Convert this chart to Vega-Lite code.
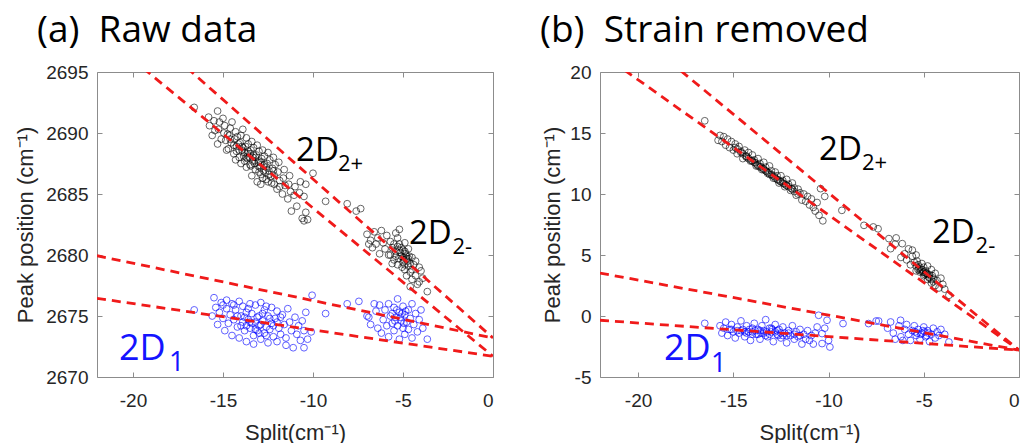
{
"$schema": "https://vega.github.io/schema/vega-lite/v6.json",
"background": "white",
"padding": {"left": 14, "top": 12, "right": 5, "bottom": 0},
"spacing": 46,
"config": {
 "view": {"stroke": null},
 "axis": {"labelFont": "Liberation Sans", "labelFontSize": 19, "labelColor": "#262626", "titleFont": "Liberation Sans", "titleFontSize": 22, "titleFontWeight": "normal", "titleColor": "#262626", "domainColor": "#8c8c8c", "tickColor": "#8c8c8c", "tickSize": -5, "grid": false, "labelExpr": "'' + datum.value"},
 "title": {"font": "Open Sans", "fontSize": 37, "fontWeight": "normal", "color": "#000000", "anchor": "start", "frame": "group", "dx": -60, "baseline": "alphabetic", "offset": 13}
},
"datasets": {
 "a_k": [
{"x":-16.6,"y":2692.1},{"x":-15.3,"y":2691.8},{"x":-15.8,"y":2691.3},{"x":-15.75,"y":2690.6},{"x":-15.5,"y":2691.0},{"x":-15.45,"y":2690.2},{"x":-15.6,"y":2689.8},{"x":-15.2,"y":2690.9},{"x":-15.25,"y":2690.3},{"x":-15.1,"y":2689.5},{"x":-15.3,"y":2689.1},{"x":-14.9,"y":2690.6},{"x":-14.95,"y":2690.0},{"x":-14.85,"y":2689.4},{"x":-14.8,"y":2688.6},{"x":-15.0,"y":2691.2},{"x":-14.6,"y":2690.4},{"x":-14.65,"y":2689.8},{"x":-14.55,"y":2689.2},{"x":-14.7,"y":2688.7},{"x":-14.5,"y":2690.9},{"x":-14.3,"y":2690.1},{"x":-14.35,"y":2689.5},{"x":-14.25,"y":2688.9},{"x":-14.4,"y":2688.3},{"x":-14.2,"y":2689.7},{"x":-14.3,"y":2687.8},{"x":-14.0,"y":2689.8},{"x":-14.05,"y":2689.2},{"x":-13.95,"y":2688.6},{"x":-14.1,"y":2688.0},{"x":-13.9,"y":2690.3},{"x":-14.0,"y":2687.5},{"x":-13.7,"y":2689.6},{"x":-13.75,"y":2688.9},{"x":-13.65,"y":2688.3},{"x":-13.8,"y":2687.7},{"x":-13.6,"y":2689.1},{"x":-13.7,"y":2687.2},{"x":-13.4,"y":2689.3},{"x":-13.45,"y":2688.6},{"x":-13.35,"y":2688.0},{"x":-13.5,"y":2687.4},{"x":-13.3,"y":2688.8},{"x":-13.4,"y":2686.5},{"x":-13.1,"y":2689.0},{"x":-13.15,"y":2688.2},{"x":-13.05,"y":2687.6},{"x":-13.2,"y":2687.0},{"x":-13.0,"y":2688.5},{"x":-13.1,"y":2686.0},{"x":-12.8,"y":2688.6},{"x":-12.85,"y":2687.9},{"x":-12.75,"y":2687.3},{"x":-12.9,"y":2686.6},{"x":-12.7,"y":2688.1},{"x":-12.9,"y":2685.8},{"x":-12.5,"y":2688.4},{"x":-12.55,"y":2687.5},{"x":-12.45,"y":2686.9},{"x":-12.6,"y":2686.2},{"x":-12.4,"y":2687.8},{"x":-12.2,"y":2688.0},{"x":-12.25,"y":2687.1},{"x":-12.15,"y":2686.5},{"x":-12.3,"y":2685.9},{"x":-12.1,"y":2687.4},{"x":-11.9,"y":2687.6},{"x":-11.95,"y":2686.8},{"x":-11.85,"y":2686.1},{"x":-12.0,"y":2685.4},{"x":-11.6,"y":2687.0},{"x":-11.65,"y":2686.3},{"x":-11.55,"y":2685.7},{"x":-11.7,"y":2685.0},{"x":-11.3,"y":2686.5},{"x":-11.35,"y":2685.8},{"x":-11.25,"y":2685.2},{"x":-11.4,"y":2684.6},{"x":-11.0,"y":2685.6},{"x":-11.05,"y":2684.9},{"x":-10.9,"y":2684.0},{"x":-11.2,"y":2683.6},{"x":-10.7,"y":2686.0},{"x":-10.75,"y":2685.1},{"x":-10.6,"y":2683.0},{"x":-10.4,"y":2685.8},{"x":-10.5,"y":2684.8},{"x":-10.4,"y":2683.5},{"x":-10.3,"y":2682.9},{"x":-10.5,"y":2682.8},{"x":-10.0,"y":2686.7},{"x":-9.3,"y":2684.4},{"x":-8.1,"y":2684.2},{"x":-7.6,"y":2683.6},{"x":-7.35,"y":2683.8},{"x":-13.9,"y":2688.8},{"x":-13.6,"y":2688.5},{"x":-13.3,"y":2688.2},{"x":-13.0,"y":2687.7},{"x":-12.7,"y":2687.4},{"x":-13.55,"y":2688.0},{"x":-13.25,"y":2687.5},{"x":-12.95,"y":2687.2},{"x":-14.15,"y":2689.1},{"x":-13.85,"y":2688.1},{"x":-12.65,"y":2686.8},{"x":-12.35,"y":2686.4},
{"x":-14.1,"y":2688.6},{"x":-13.95,"y":2688.9},{"x":-13.8,"y":2688.4},{"x":-13.65,"y":2687.9},{"x":-13.5,"y":2688.3},{"x":-13.35,"y":2687.7},{"x":-13.2,"y":2688.0},{"x":-13.05,"y":2687.3},{"x":-12.9,"y":2687.6},{"x":-12.75,"y":2686.9},{"x":-12.6,"y":2687.2},{"x":-12.45,"y":2686.6},{"x":-14.4,"y":2689.0},{"x":-14.25,"y":2688.5},{"x":-13.45,"y":2687.3},{"x":-13.0,"y":2686.8},{"x":-12.8,"y":2686.3},{"x":-12.5,"y":2686.0},{"x":-12.15,"y":2685.8},{"x":-11.85,"y":2685.6},{"x":-13.7,"y":2688.0},{"x":-14.6,"y":2689.5},{"x":-14.75,"y":2689.9},{"x":-12.2,"y":2686.9},
{"x":-7.0,"y":2681.7},{"x":-6.8,"y":2681.2},{"x":-6.7,"y":2680.6},{"x":-6.6,"y":2681.9},{"x":-6.4,"y":2681.4},{"x":-6.3,"y":2680.1},{"x":-6.2,"y":2682.0},{"x":-6.1,"y":2681.0},{"x":-6.0,"y":2680.5},{"x":-5.9,"y":2681.6},{"x":-5.8,"y":2680.0},{"x":-5.7,"y":2681.1},{"x":-5.6,"y":2680.6},{"x":-5.5,"y":2679.6},{"x":-5.4,"y":2681.8},{"x":-5.4,"y":2680.3},{"x":-5.3,"y":2679.2},{"x":-5.2,"y":2682.1},{"x":-5.2,"y":2680.9},{"x":-5.1,"y":2679.9},{"x":-5.0,"y":2680.4},{"x":-5.0,"y":2679.4},{"x":-4.9,"y":2678.8},{"x":-4.9,"y":2681.0},{"x":-4.8,"y":2679.9},{"x":-4.8,"y":2678.3},{"x":-4.7,"y":2680.5},{"x":-4.7,"y":2679.1},{"x":-4.6,"y":2677.4},{"x":-4.6,"y":2678.6},{"x":-4.5,"y":2679.8},{"x":-4.5,"y":2678.0},{"x":-4.4,"y":2679.2},{"x":-4.3,"y":2679.5},{"x":-4.3,"y":2678.3},{"x":-4.2,"y":2677.6},{"x":-4.1,"y":2679.0},{"x":-4.1,"y":2677.8},{"x":-4.0,"y":2678.7},{"x":-3.9,"y":2678.1},{"x":-3.65,"y":2677.0},{"x":-5.6,"y":2679.3},{"x":-5.3,"y":2681.4},{"x":-6.5,"y":2680.9},{"x":-5.7,"y":2680.0},{"x":-5.15,"y":2680.2},{"x":-4.95,"y":2679.6},{"x":-4.85,"y":2680.1},{"x":-5.05,"y":2679.0},{"x":-4.75,"y":2679.5},{"x":-5.25,"y":2679.7},{"x":-4.65,"y":2679.9},{"x":-6.9,"y":2680.9},
{"x":-5.1,"y":2680.6},{"x":-4.9,"y":2680.3},{"x":-4.8,"y":2679.7},{"x":-5.0,"y":2679.8},{"x":-5.2,"y":2680.4},{"x":-4.7,"y":2679.7},{"x":-4.9,"y":2679.2},{"x":-5.3,"y":2680.7},{"x":-5.5,"y":2680.9},{"x":-4.6,"y":2679.3},{"x":-4.5,"y":2678.8},{"x":-5.4,"y":2679.9}
 ],
 "a_b": [
{"x":-16.6,"y":2675.5},{"x":-15.5,"y":2676.5},{"x":-15.4,"y":2675.7},{"x":-15.6,"y":2675.0},{"x":-15.3,"y":2674.3},{"x":-15.2,"y":2675.3},{"x":-15.1,"y":2676.1},{"x":-15.0,"y":2674.8},{"x":-14.9,"y":2673.8},{"x":-14.8,"y":2675.6},{"x":-14.8,"y":2676.3},{"x":-14.7,"y":2674.4},{"x":-14.6,"y":2675.1},{"x":-14.5,"y":2676.0},{"x":-14.5,"y":2673.4},{"x":-14.4,"y":2674.7},{"x":-14.3,"y":2675.5},{"x":-14.2,"y":2674.1},{"x":-14.1,"y":2676.2},{"x":-14.1,"y":2673.2},{"x":-14.0,"y":2675.0},{"x":-13.9,"y":2674.5},{"x":-13.9,"y":2675.8},{"x":-13.8,"y":2673.8},{"x":-13.7,"y":2675.3},{"x":-13.7,"y":2672.9},{"x":-13.6,"y":2674.7},{"x":-13.5,"y":2676.0},{"x":-13.5,"y":2674.0},{"x":-13.4,"y":2675.2},{"x":-13.3,"y":2673.4},{"x":-13.3,"y":2672.7},{"x":-13.2,"y":2674.5},{"x":-13.2,"y":2675.9},{"x":-13.1,"y":2673.8},{"x":-13.0,"y":2675.0},{"x":-13.0,"y":2674.2},{"x":-12.9,"y":2676.1},{"x":-12.9,"y":2673.1},{"x":-12.8,"y":2674.6},{"x":-12.7,"y":2675.5},{"x":-12.7,"y":2673.6},{"x":-12.6,"y":2674.1},{"x":-12.5,"y":2675.0},{"x":-12.5,"y":2672.8},{"x":-12.4,"y":2673.9},{"x":-12.3,"y":2675.7},{"x":-12.3,"y":2674.4},{"x":-12.2,"y":2673.3},{"x":-12.1,"y":2674.8},{"x":-12.0,"y":2672.9},{"x":-12.0,"y":2675.4},{"x":-11.9,"y":2674.0},{"x":-11.8,"y":2673.5},{"x":-11.7,"y":2675.1},{"x":-11.6,"y":2674.3},{"x":-11.5,"y":2672.6},{"x":-11.5,"y":2673.2},{"x":-11.4,"y":2675.6},{"x":-11.3,"y":2674.5},{"x":-11.2,"y":2673.8},{"x":-11.1,"y":2672.4},{"x":-11.0,"y":2674.9},{"x":-10.9,"y":2673.5},{"x":-10.8,"y":2674.2},{"x":-10.7,"y":2673.0},{"x":-10.6,"y":2674.6},{"x":-10.5,"y":2672.4},{"x":-10.5,"y":2673.8},{"x":-10.4,"y":2675.3},{"x":-10.3,"y":2673.1},{"x":-10.1,"y":2673.7},{"x":-10.05,"y":2676.7},{"x":-9.3,"y":2675.2},{"x":-8.1,"y":2676.0},{"x":-7.45,"y":2676.2},{"x":-14.2,"y":2675.0},{"x":-13.8,"y":2674.9},{"x":-13.6,"y":2675.6},{"x":-13.4,"y":2674.4},{"x":-13.1,"y":2674.9},{"x":-12.9,"y":2674.3},{"x":-12.8,"y":2675.2},{"x":-12.6,"y":2673.4},{"x":-12.4,"y":2674.8},{"x":-12.2,"y":2674.2},{"x":-13.0,"y":2673.6},{"x":-13.5,"y":2674.5},{"x":-14.0,"y":2674.2},{"x":-12.0,"y":2674.5},{"x":-11.8,"y":2674.9},{"x":-13.7,"y":2674.2},{"x":-13.2,"y":2673.9},{"x":-12.6,"y":2675.8},{"x":-14.4,"y":2675.9},{"x":-15.0,"y":2675.9},
{"x":-6.9,"y":2674.9},{"x":-6.8,"y":2674.3},{"x":-6.5,"y":2675.4},{"x":-6.4,"y":2674.0},{"x":-6.3,"y":2675.9},{"x":-6.2,"y":2673.6},{"x":-6.1,"y":2674.7},{"x":-6.0,"y":2675.5},{"x":-5.9,"y":2674.2},{"x":-5.8,"y":2676.0},{"x":-5.8,"y":2673.3},{"x":-5.7,"y":2675.0},{"x":-5.6,"y":2674.4},{"x":-5.5,"y":2675.7},{"x":-5.5,"y":2673.8},{"x":-5.4,"y":2674.9},{"x":-5.3,"y":2676.4},{"x":-5.3,"y":2674.2},{"x":-5.2,"y":2675.3},{"x":-5.2,"y":2673.1},{"x":-5.1,"y":2674.6},{"x":-5.0,"y":2675.8},{"x":-5.0,"y":2674.0},{"x":-4.9,"y":2675.1},{"x":-4.9,"y":2673.5},{"x":-4.8,"y":2674.5},{"x":-4.7,"y":2675.5},{"x":-4.7,"y":2673.9},{"x":-4.6,"y":2674.8},{"x":-4.5,"y":2673.2},{"x":-4.5,"y":2676.0},{"x":-4.4,"y":2674.3},{"x":-4.3,"y":2675.2},{"x":-4.2,"y":2673.7},{"x":-4.1,"y":2674.7},{"x":-4.0,"y":2675.5},{"x":-3.9,"y":2674.0},{"x":-3.65,"y":2673.1},{"x":-5.6,"y":2675.2},{"x":-5.35,"y":2675.5},{"x":-5.15,"y":2674.9},{"x":-4.95,"y":2674.4},{"x":-4.85,"y":2675.4},{"x":-5.45,"y":2674.6},{"x":-5.05,"y":2675.2},{"x":-6.6,"y":2676.0},{"x":-7.0,"y":2675.0}
 ],
 "b_k": [
{"x":-16.5,"y":16.0},{"x":-15.8,"y":14.4},{"x":-15.7,"y":14.8},{"x":-15.6,"y":14.3},{"x":-15.5,"y":14.7},{"x":-15.4,"y":14.0},{"x":-15.3,"y":14.5},{"x":-15.2,"y":13.8},{"x":-15.1,"y":14.3},{"x":-15.0,"y":13.6},{"x":-14.9,"y":14.1},{"x":-14.8,"y":13.3},{"x":-14.7,"y":13.9},{"x":-14.6,"y":13.5},{"x":-14.5,"y":12.9},{"x":-14.4,"y":13.6},{"x":-14.3,"y":13.1},{"x":-14.2,"y":13.4},{"x":-14.1,"y":12.7},{"x":-14.0,"y":13.2},{"x":-13.9,"y":12.8},{"x":-13.8,"y":12.3},{"x":-13.7,"y":12.9},{"x":-13.6,"y":12.5},{"x":-13.5,"y":12.0},{"x":-13.4,"y":12.6},{"x":-13.3,"y":12.2},{"x":-13.2,"y":11.7},{"x":-13.1,"y":12.3},{"x":-13.0,"y":11.9},{"x":-12.9,"y":11.3},{"x":-12.8,"y":11.8},{"x":-12.7,"y":11.5},{"x":-12.6,"y":10.9},{"x":-12.5,"y":11.5},{"x":-12.4,"y":11.1},{"x":-12.3,"y":10.6},{"x":-12.2,"y":11.2},{"x":-12.1,"y":10.8},{"x":-12.0,"y":10.3},{"x":-11.9,"y":10.9},{"x":-11.8,"y":10.5},{"x":-11.7,"y":9.9},{"x":-11.6,"y":10.4},{"x":-11.5,"y":10.1},{"x":-11.4,"y":9.5},{"x":-11.3,"y":10.0},{"x":-11.2,"y":9.4},{"x":-11.1,"y":9.8},{"x":-11.0,"y":9.1},{"x":-10.9,"y":9.6},{"x":-10.8,"y":8.9},{"x":-10.42,"y":10.44},{"x":-10.2,"y":9.8},{"x":-10.5,"y":8.25},{"x":-10.3,"y":7.8},{"x":-10.6,"y":9.3},{"x":-10.7,"y":8.6},{"x":-9.3,"y":8.66},{"x":-8.14,"y":7.43},{"x":-7.65,"y":7.3},{"x":-7.4,"y":7.15},{"x":-14.8,"y":13.7},{"x":-14.5,"y":13.3},{"x":-14.2,"y":12.9},{"x":-13.9,"y":12.6},{"x":-13.6,"y":12.2},{"x":-13.3,"y":11.9},{"x":-13.0,"y":11.6},{"x":-12.7,"y":11.2},{"x":-12.4,"y":10.9},{"x":-12.1,"y":10.6},{"x":-11.8,"y":10.2},{"x":-13.45,"y":12.1},{"x":-13.15,"y":11.75},{"x":-12.85,"y":11.45},{"x":-12.55,"y":11.05},{"x":-14.05,"y":12.75},{"x":-14.35,"y":13.1},{"x":-13.75,"y":12.4},{"x":-12.25,"y":10.75},{"x":-11.95,"y":10.45},
{"x":-14.9,"y":13.8},{"x":-14.6,"y":13.4},{"x":-14.3,"y":13.0},{"x":-14.0,"y":12.7},{"x":-13.7,"y":12.3},{"x":-13.4,"y":12.0},{"x":-13.1,"y":11.6},{"x":-12.8,"y":11.3},{"x":-12.5,"y":11.0},{"x":-12.2,"y":10.7},{"x":-11.9,"y":10.4},{"x":-11.6,"y":10.0},{"x":-13.85,"y":12.55},{"x":-13.55,"y":12.25},{"x":-13.25,"y":11.85},{"x":-12.95,"y":11.5},{"x":-12.65,"y":11.15},{"x":-12.35,"y":10.85},
{"x":-6.83,"y":6.34},{"x":-6.45,"y":6.4},{"x":-6.74,"y":5.52},{"x":-6.13,"y":5.93},{"x":-6.0,"y":5.1},{"x":-5.9,"y":4.6},{"x":-5.8,"y":5.5},{"x":-5.7,"y":4.2},{"x":-5.6,"y":4.9},{"x":-5.5,"y":4.4},{"x":-5.4,"y":3.7},{"x":-5.4,"y":5.0},{"x":-5.3,"y":4.2},{"x":-5.2,"y":3.6},{"x":-5.1,"y":4.3},{"x":-5.0,"y":3.3},{"x":-5.0,"y":4.0},{"x":-4.9,"y":3.7},{"x":-4.8,"y":3.0},{"x":-4.8,"y":4.1},{"x":-4.7,"y":3.4},{"x":-4.6,"y":2.7},{"x":-4.6,"y":3.8},{"x":-4.5,"y":3.1},{"x":-4.4,"y":2.5},{"x":-4.4,"y":3.5},{"x":-4.3,"y":2.9},{"x":-4.2,"y":2.3},{"x":-4.1,"y":3.1},{"x":-4.0,"y":2.6},{"x":-3.9,"y":2.2},{"x":-3.68,"y":1.7},{"x":-5.6,"y":5.4},{"x":-6.2,"y":4.8},{"x":-5.25,"y":3.9},{"x":-5.15,"y":3.7},{"x":-5.05,"y":3.6},{"x":-4.95,"y":3.4},{"x":-4.85,"y":3.5},{"x":-4.75,"y":3.2},{"x":-5.35,"y":4.5},{"x":-4.55,"y":3.3},{"x":-6.5,"y":5.9},
{"x":-5.1,"y":3.8},{"x":-5.0,"y":3.6},{"x":-4.9,"y":3.5},{"x":-4.8,"y":3.4},{"x":-4.7,"y":3.1},{"x":-5.2,"y":4.0},{"x":-5.3,"y":3.8},{"x":-4.6,"y":3.0},{"x":-4.5,"y":2.8},{"x":-5.4,"y":4.1}
 ],
 "b_b": [
{"x":-16.5,"y":-0.6},{"x":-15.7,"y":-0.8},{"x":-15.6,"y":-1.4},{"x":-15.5,"y":-1.0},{"x":-15.4,"y":-0.5},{"x":-15.3,"y":-1.6},{"x":-15.2,"y":-1.1},{"x":-15.1,"y":-0.7},{"x":-15.0,"y":-1.3},{"x":-14.9,"y":-1.8},{"x":-14.8,"y":-0.9},{"x":-14.7,"y":-1.4},{"x":-14.6,"y":-0.4},{"x":-14.5,"y":-1.1},{"x":-14.4,"y":-1.7},{"x":-14.3,"y":-0.8},{"x":-14.2,"y":-1.3},{"x":-14.1,"y":-2.0},{"x":-14.0,"y":-1.0},{"x":-13.9,"y":-0.6},{"x":-13.8,"y":-1.5},{"x":-13.7,"y":-1.1},{"x":-13.6,"y":-1.9},{"x":-13.5,"y":-0.8},{"x":-13.4,"y":-1.4},{"x":-13.3,"y":-0.3},{"x":-13.2,"y":-1.7},{"x":-13.1,"y":-1.0},{"x":-13.0,"y":-1.3},{"x":-12.9,"y":-2.1},{"x":-12.8,"y":-0.7},{"x":-12.7,"y":-1.5},{"x":-12.6,"y":-1.1},{"x":-12.5,"y":-1.8},{"x":-12.4,"y":-0.9},{"x":-12.3,"y":-1.4},{"x":-12.2,"y":-2.2},{"x":-12.1,"y":-1.2},{"x":-12.0,"y":-1.6},{"x":-11.9,"y":-0.8},{"x":-11.8,"y":-1.9},{"x":-11.7,"y":-1.3},{"x":-11.6,"y":-1.7},{"x":-11.5,"y":-1.1},{"x":-11.4,"y":-2.3},{"x":-11.3,"y":-1.5},{"x":-11.2,"y":-1.9},{"x":-11.1,"y":-1.2},{"x":-11.0,"y":-2.0},{"x":-10.9,"y":-1.6},{"x":-10.8,"y":-2.3},{"x":-10.7,"y":-1.4},{"x":-10.52,"y":0.06},{"x":-10.08,"y":-0.35},{"x":-10.34,"y":-1.44},{"x":-10.34,"y":-2.26},{"x":-9.93,"y":-2.54},{"x":-10.6,"y":-0.9},{"x":-10.2,"y":-1.0},{"x":-10.0,"y":-2.0},{"x":-14.6,"y":-1.2},{"x":-14.3,"y":-1.4},{"x":-14.0,"y":-1.3},{"x":-13.7,"y":-1.5},{"x":-13.4,"y":-1.2},{"x":-13.1,"y":-1.5},{"x":-12.8,"y":-1.3},{"x":-12.5,"y":-1.4},{"x":-12.2,"y":-1.6},{"x":-13.85,"y":-1.2},{"x":-13.25,"y":-1.3},{"x":-12.65,"y":-1.6},{"x":-12.95,"y":-1.1},{"x":-13.55,"y":-1.4},{"x":-14.15,"y":-1.1},{"x":-9.24,"y":-0.62},{"x":-7.9,"y":-0.62},{"x":-7.5,"y":-0.41},{"x":-7.37,"y":-0.41},{"x":-6.74,"y":-0.49},{"x":-6.22,"y":-0.35},
{"x":-14.0,"y":-1.5},{"x":-13.6,"y":-1.2},{"x":-13.3,"y":-1.6},{"x":-13.0,"y":-1.0},{"x":-12.7,"y":-1.2},{"x":-12.4,"y":-1.6},{"x":-12.1,"y":-1.4},{"x":-11.8,"y":-1.5},{"x":-14.4,"y":-1.3},{"x":-14.8,"y":-1.2},{"x":-15.1,"y":-1.1},{"x":-11.5,"y":-1.6},
{"x":-6.9,"y":-1.0},{"x":-6.6,"y":-1.4},{"x":-6.3,"y":-0.8},{"x":-6.2,"y":-1.7},{"x":-6.0,"y":-1.1},{"x":-5.9,"y":-0.7},{"x":-5.8,"y":-1.5},{"x":-5.7,"y":-2.0},{"x":-5.6,"y":-1.2},{"x":-5.5,"y":-0.8},{"x":-5.4,"y":-1.6},{"x":-5.3,"y":-1.1},{"x":-5.2,"y":-1.9},{"x":-5.1,"y":-1.4},{"x":-5.0,"y":-0.9},{"x":-4.9,"y":-1.7},{"x":-4.8,"y":-1.2},{"x":-4.7,"y":-2.1},{"x":-4.6,"y":-1.5},{"x":-4.5,"y":-1.0},{"x":-4.4,"y":-1.8},{"x":-4.3,"y":-1.3},{"x":-4.2,"y":-1.6},{"x":-4.1,"y":-1.1},{"x":-3.9,"y":-1.5},{"x":-3.68,"y":-2.13},{"x":-5.35,"y":-1.4},{"x":-5.15,"y":-1.5},{"x":-4.95,"y":-1.3},{"x":-4.85,"y":-1.6},{"x":-5.05,"y":-1.2},{"x":-5.45,"y":-1.3},{"x":-4.75,"y":-1.4},{"x":-6.1,"y":-2.0},{"x":-6.5,"y":-1.9}
 ],
 "a_lines": [
  {"x": -22, "y": 2698.43, "x2": 0, "y2": 2671.7},
  {"x": -22, "y": 2701.85, "x2": 0, "y2": 2673.2},
  {"x": -22, "y": 2679.94, "x2": 0, "y2": 2673.2},
  {"x": -22, "y": 2676.45, "x2": 0, "y2": 2671.7}
 ],
 "b_lines": [
  {"x": -22, "y": 21.58, "x2": 0, "y2": -2.8},
  {"x": -22, "y": 25.57, "x2": 0, "y2": -2.8},
  {"x": -22, "y": 3.52, "x2": 0, "y2": -2.8},
  {"x": -22, "y": -0.35, "x2": 0, "y2": -2.8}
 ],
 "a_lab": [
  {"x": -10.94, "y": 2687.7, "t": "2D", "s": "k"},
  {"x": -4.67, "y": 2680.92, "t": "2D", "s": "k"},
  {"x": -20.78, "y": 2671.36, "t": "2D", "s": "b"}
 ],
 "a_sub": [
  {"x": -8.61, "y": 2686.89, "t": "2+", "s": "k"},
  {"x": -2.25, "y": 2680.11, "t": "2-", "s": "k"},
  {"x": -18.0, "y": 2670.49, "t": "1", "s": "b"}
 ],
 "b_lab": [
  {"x": -10.5, "y": 12.76, "t": "2D", "s": "k"},
  {"x": -4.57, "y": 5.96, "t": "2D", "s": "k"},
  {"x": -18.64, "y": -3.63, "t": "2D", "s": "b"}
 ],
 "b_sub": [
  {"x": -8.25, "y": 11.94, "t": "2+", "s": "k"},
  {"x": -2.28, "y": 5.14, "t": "2-", "s": "k"},
  {"x": -16.17, "y": -4.59, "t": "1", "s": "b"}
 ]
},
"hconcat": [
 {
  "title": {"text": "(a)\u00a0\u00a0Raw data"},
  "width": 396, "height": 305,
  "resolve": {"axis": {"x": "independent", "y": "independent"}},
  "layer": [
   {"data": {"name": "a_b"},
    "mark": {"type": "point", "filled": false, "size": 46, "strokeWidth": 1, "color": "#0000ff", "opacity": 0.62},
    "encoding": {
     "x": {"field": "x", "type": "quantitative", "scale": {"domain": [-22, 0], "nice": false, "zero": false},
       "axis": {"values": [-20, -15, -10, -5, 0], "title": "Split(cm⁻¹)", "labelPadding": 19, "titlePadding": 12}},
     "y": {"field": "y", "type": "quantitative", "scale": {"domain": [2670, 2695], "nice": false, "zero": false},
       "axis": {"values": [2670, 2675, 2680, 2685, 2690, 2695], "title": "Peak position (cm⁻¹)", "labelPadding": 14, "titlePadding": 8}}
    }},
   {"data": {"name": "a_k"},
    "mark": {"type": "point", "filled": false, "size": 46, "strokeWidth": 1, "color": "#000000", "opacity": 0.6},
    "encoding": {
     "x": {"field": "x", "type": "quantitative", "scale": {"domain": [-22, 0], "nice": false, "zero": false}, "axis": null},
     "y": {"field": "y", "type": "quantitative", "scale": {"domain": [2670, 2695], "nice": false, "zero": false}, "axis": null}
    }},
   {"data": {"name": "a_lines"},
    "mark": {"type": "rule", "color": "#f01a1a", "strokeWidth": 2.8, "strokeDash": [9, 6], "clip": true},
    "encoding": {
     "x": {"field": "x", "type": "quantitative", "scale": {"domain": [-22, 0], "nice": false, "zero": false},
       "axis": {"orient": "top", "values": [-20, -15, -10, -5, 0], "labels": false, "title": null}},
     "y": {"field": "y", "type": "quantitative", "scale": {"domain": [2670, 2695], "nice": false, "zero": false},
       "axis": {"orient": "right", "values": [2670, 2675, 2680, 2685, 2690, 2695], "labels": false, "title": null}},
     "x2": {"field": "x2"}, "y2": {"field": "y2"}
    }},
   {"data": {"name": "a_lab"}, "transform": [{"filter": "datum.s === 'k'"}],
    "mark": {"type": "text", "font": "Open Sans", "fontSize": 33, "align": "left", "baseline": "alphabetic", "color": "#000000"},
    "encoding": {"x": {"field": "x", "type": "quantitative", "axis": null}, "y": {"field": "y", "type": "quantitative", "axis": null}, "text": {"field": "t"}}},
   {"data": {"name": "a_sub"}, "transform": [{"filter": "datum.s === 'k'"}],
    "mark": {"type": "text", "font": "Open Sans", "fontSize": 22, "align": "left", "baseline": "alphabetic", "color": "#000000"},
    "encoding": {"x": {"field": "x", "type": "quantitative", "axis": null}, "y": {"field": "y", "type": "quantitative", "axis": null}, "text": {"field": "t"}}},
   {"data": {"name": "a_lab"}, "transform": [{"filter": "datum.s === 'b'"}],
    "mark": {"type": "text", "font": "Open Sans", "fontSize": 36, "align": "left", "baseline": "alphabetic", "color": "#1414ff"},
    "encoding": {"x": {"field": "x", "type": "quantitative", "axis": null}, "y": {"field": "y", "type": "quantitative", "axis": null}, "text": {"field": "t"}}},
   {"data": {"name": "a_sub"}, "transform": [{"filter": "datum.s === 'b'"}],
    "mark": {"type": "text", "font": "Open Sans", "fontSize": 27, "align": "left", "baseline": "alphabetic", "color": "#1414ff"},
    "encoding": {"x": {"field": "x", "type": "quantitative", "axis": null}, "y": {"field": "y", "type": "quantitative", "axis": null}, "text": {"field": "t"}}}
  ]
 },
 {
  "title": {"text": "(b)\u00a0\u00a0Strain removed"},
  "width": 419, "height": 305,
  "resolve": {"axis": {"x": "independent", "y": "independent"}},
  "layer": [
   {"data": {"name": "b_b"},
    "mark": {"type": "point", "filled": false, "size": 46, "strokeWidth": 1, "color": "#0000ff", "opacity": 0.62},
    "encoding": {
     "x": {"field": "x", "type": "quantitative", "scale": {"domain": [-22, 0], "nice": false, "zero": false},
       "axis": {"values": [-20, -15, -10, -5, 0], "title": "Split(cm⁻¹)", "labelPadding": 19, "titlePadding": 12}},
     "y": {"field": "y", "type": "quantitative", "scale": {"domain": [-5, 20], "nice": false, "zero": false},
       "axis": {"values": [-5, 0, 5, 10, 15, 20], "title": "Peak position (cm⁻¹)", "labelPadding": 14, "titlePadding": 5}}
    }},
   {"data": {"name": "b_k"},
    "mark": {"type": "point", "filled": false, "size": 46, "strokeWidth": 1, "color": "#000000", "opacity": 0.6},
    "encoding": {
     "x": {"field": "x", "type": "quantitative", "scale": {"domain": [-22, 0], "nice": false, "zero": false}, "axis": null},
     "y": {"field": "y", "type": "quantitative", "scale": {"domain": [-5, 20], "nice": false, "zero": false}, "axis": null}
    }},
   {"data": {"name": "b_lines"},
    "mark": {"type": "rule", "color": "#f01a1a", "strokeWidth": 2.8, "strokeDash": [9, 6], "clip": true},
    "encoding": {
     "x": {"field": "x", "type": "quantitative", "scale": {"domain": [-22, 0], "nice": false, "zero": false},
       "axis": {"orient": "top", "values": [-20, -15, -10, -5, 0], "labels": false, "title": null}},
     "y": {"field": "y", "type": "quantitative", "scale": {"domain": [-5, 20], "nice": false, "zero": false},
       "axis": {"orient": "right", "values": [-5, 0, 5, 10, 15, 20], "labels": false, "title": null}},
     "x2": {"field": "x2"}, "y2": {"field": "y2"}
    }},
   {"data": {"name": "b_lab"}, "transform": [{"filter": "datum.s === 'k'"}],
    "mark": {"type": "text", "font": "Open Sans", "fontSize": 33, "align": "left", "baseline": "alphabetic", "color": "#000000"},
    "encoding": {"x": {"field": "x", "type": "quantitative", "axis": null}, "y": {"field": "y", "type": "quantitative", "axis": null}, "text": {"field": "t"}}},
   {"data": {"name": "b_sub"}, "transform": [{"filter": "datum.s === 'k'"}],
    "mark": {"type": "text", "font": "Open Sans", "fontSize": 22, "align": "left", "baseline": "alphabetic", "color": "#000000"},
    "encoding": {"x": {"field": "x", "type": "quantitative", "axis": null}, "y": {"field": "y", "type": "quantitative", "axis": null}, "text": {"field": "t"}}},
   {"data": {"name": "b_lab"}, "transform": [{"filter": "datum.s === 'b'"}],
    "mark": {"type": "text", "font": "Open Sans", "fontSize": 36, "align": "left", "baseline": "alphabetic", "color": "#1414ff"},
    "encoding": {"x": {"field": "x", "type": "quantitative", "axis": null}, "y": {"field": "y", "type": "quantitative", "axis": null}, "text": {"field": "t"}}},
   {"data": {"name": "b_sub"}, "transform": [{"filter": "datum.s === 'b'"}],
    "mark": {"type": "text", "font": "Open Sans", "fontSize": 27, "align": "left", "baseline": "alphabetic", "color": "#1414ff"},
    "encoding": {"x": {"field": "x", "type": "quantitative", "axis": null}, "y": {"field": "y", "type": "quantitative", "axis": null}, "text": {"field": "t"}}}
  ]
 }
]
}
